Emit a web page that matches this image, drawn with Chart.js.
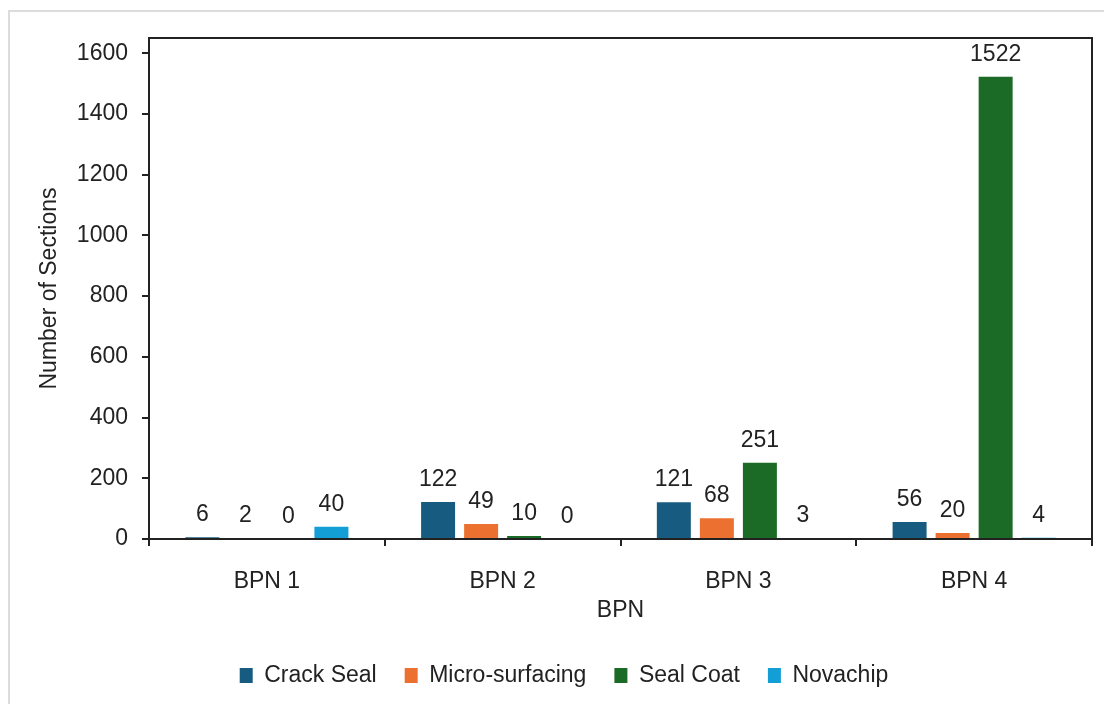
<!DOCTYPE html>
<html>
<head>
<meta charset="utf-8">
<script src="https://cdn.jsdelivr.net/npm/chart.js@4.4.1/dist/chart.umd.min.js"></script>
<style>
  html, body { margin: 0; padding: 0; background: #fff; }
  #wrap { position: relative; width: 1104px; height: 704px; }
  #frame { position: absolute; left: 8px; top: 10px; right: -4px; bottom: -4px; border: 2px solid #dcdcdc; pointer-events: none; }
  canvas { position: absolute; left: 0; top: 0; }
</style>
</head>
<body>
<div id="wrap">
  <canvas id="chart" width="1104" height="704"></canvas>
  <div id="frame"></div>
</div>
<script>
const categories = ['BPN 1', 'BPN 2', 'BPN 3', 'BPN 4'];
const crackSeal = [6, 122, 121, 56];
const microSurfacing = [2, 49, 68, 20];
const sealCoat = [0, 10, 251, 1522];
const novachip = [40, 0, 3, 4];
const yTicks = [0, 200, 400, 600, 800, 1000, 1200, 1400, 1600];

const FONT = "'Liberation Sans', Arial, sans-serif";
const SIZE = 23;
const INK = '#222';

// value labels above every bar
const barLabels = {
  id: 'barLabels',
  afterDatasetsDraw(chart) {
    const ctx = chart.ctx;
    ctx.save();
    ctx.font = SIZE + 'px ' + FONT;
    ctx.fillStyle = INK;
    ctx.textAlign = 'center';
    ctx.textBaseline = 'bottom';
    chart.data.datasets.forEach((ds, i) => {
      chart.getDatasetMeta(i).data.forEach((bar, j) => {
        ctx.fillText(String(ds.data[j]), bar.x, bar.y - 11);
      });
    });
    ctx.restore();
  }
};

// box around the plot area
const plotBox = {
  id: 'plotBox',
  afterDraw(chart) {
    const a = chart.chartArea;
    const ctx = chart.ctx;
    ctx.save();
    ctx.strokeStyle = INK;
    ctx.lineWidth = 2;
    ctx.strokeRect(a.left, a.top, a.right - a.left, a.bottom - a.top);
    ctx.restore();
  }
};

new Chart(document.getElementById('chart'), {
  type: 'bar',
  data: {
    labels: categories,
    datasets: [
      { label: 'Crack Seal', data: crackSeal, backgroundColor: '#175c80' },
      { label: 'Micro-surfacing', data: microSurfacing, backgroundColor: '#ec7030' },
      { label: 'Seal Coat', data: sealCoat, backgroundColor: '#1b6a25' },
      { label: 'Novachip', data: novachip, backgroundColor: '#139ed6' }
    ]
  },
  options: {
    responsive: false,
    animation: false,
    layout: { padding: { top: 38, right: 12, bottom: 7, left: 36 } },
    datasets: { bar: { categoryPercentage: 0.73, barPercentage: 0.79 } },
    plugins: {
      tooltip: { enabled: false },
      legend: {
        position: 'bottom',
        labels: {
          font: { family: FONT, size: SIZE },
          color: INK,
          boxWidth: 13,
          boxHeight: 15,
          padding: 28
        }
      }
    },
    scales: {
      x: {
        afterFit: s => { s.height = 97; },
        grid: { drawOnChartArea: false, tickLength: 7, color: INK, lineWidth: 2 },
        border: { color: INK, width: 2 },
        ticks: { font: { family: FONT, size: SIZE }, color: INK, padding: 22 },
        title: { display: true, text: 'BPN', font: { family: FONT, size: SIZE }, color: INK, padding: { top: 0, bottom: 12 } }
      },
      y: {
        min: 0,
        max: 1650,
        afterFit: s => { s.width = 113; },
        afterBuildTicks: s => { s.ticks = yTicks.map(v => ({ value: v })); },
        grid: { drawOnChartArea: false, tickLength: 7, color: INK, lineWidth: 2 },
        border: { color: INK, width: 2 },
        ticks: { font: { family: FONT, size: SIZE }, color: INK, padding: 14, callback: v => String(v) },
        title: { display: true, text: 'Number of Sections', font: { family: FONT, size: SIZE }, color: INK, padding: { top: 0, bottom: 0 } }
      }
    }
  },
  plugins: [barLabels, plotBox]
});
</script>
</body>
</html>
